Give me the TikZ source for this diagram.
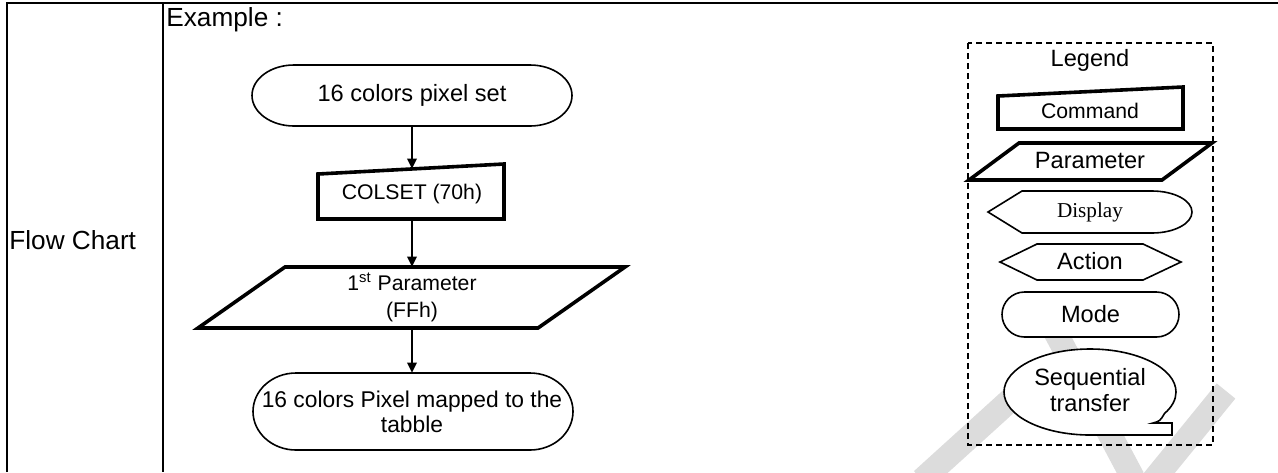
\documentclass[tikz,border=0pt]{standalone}
\usepackage{fontspec}
\setmainfont{Liberation Sans}
\newfontfamily\dispfont{Liberation Serif}
\usepackage{xcolor}
\usepackage{tikz}
\usetikzlibrary{arrows.meta,positioning,shapes.misc}
\definecolor{wmark}{HTML}{DCDCDC}
\newcommand{\fbig}{\fontsize{13.1}{15.5}\selectfont}
\newcommand{\fmid}{\fontsize{11.8}{13}\selectfont}
\newcommand{\fsml}{\fontsize{10.6}{13.5}\selectfont}

\begin{document}
\begin{tikzpicture}[x=0.5pt,y=-0.5pt,
  tablerule/.style={line width=1pt},
  outl/.style={line width=0.8pt},
  heavy/.style={line width=1.8pt,line join=miter},
  term/.style={draw,rounded rectangle,line width=0.8pt,fill=white,align=center,inner sep=0pt,font=\fmid},
  lbl/.style={inner sep=0pt,align=center},
  arr/.style={line width=0.8pt,-{Triangle[length=5pt,width=4.8pt]}}]
  \useasboundingbox (0,0) rectangle (1278,472);
  % watermark
  \begin{scope}
    \clip (0,0) rectangle (1278,472);
    \draw[wmark,line width=12pt] (922,480) -- (1040,373);
    \draw[wmark,line width=12pt] (1050,322) -- (1133,478);
    \draw[wmark,line width=12pt] (1152,482) -- (1226,391);
  \end{scope}
  % table frame
  \draw[tablerule] (7,472) -- (7,3) -- (1278,3);
  \draw[tablerule] (163,3) -- (163,472);
  \node[lbl,font=\fbig,anchor=west] (exmp) at (166,20) {Example :};
  \node[lbl,font=\fbig,anchor=west] (fchart) at (9,240) {Flow Chart};
  % flow chart
  \draw[outl,fill=white] (294,65) -- (530,65) arc[start angle=90,end angle=-90,x radius=21pt,y radius=15.25pt]
    -- (294,126) arc[start angle=270,end angle=90,x radius=21pt,y radius=15.25pt] -- cycle;
  \draw[heavy,fill=white] (318,174) -- (504,164) -- (504,219) -- (318,219) -- cycle;
  \draw[heavy,fill=white] (285,267) -- (625,267) -- (538,328) -- (198,328) -- cycle;
  \draw[outl,fill=white] (296,373) -- (530,373) arc[start angle=90,end angle=-90,x radius=21.5pt,y radius=19.25pt]
    -- (296,450) arc[start angle=270,end angle=90,x radius=21.5pt,y radius=19.25pt] -- cycle;
  \node[lbl,font=\fmid,minimum width=160pt,minimum height=30.5pt] (pxset) at (412,95) {16 colors pixel set};
  \node[lbl,font=\fsml,minimum width=93pt,minimum height=25pt] (colset) at (412,194) {COLSET (70h)};
  \node[lbl,font=\fsml,minimum width=170pt,minimum height=30.5pt] (par1) at (412,297.5) {1\textsuperscript{st} Parameter\\(FFh)};
  \node[lbl,font=\fontsize{11.4}{12.6}\selectfont,minimum width=160pt,minimum height=38.5pt] (mapped) at (412,411.5) {16 colors Pixel mapped to the\\tabble};
  \draw[arr] (pxset.south) -- (colset.north);
  \draw[arr] (colset.south) -- (par1.north);
  \draw[arr] (par1.south) -- (mapped.north);
  % legend
  \draw[outl,dash pattern=on 3pt off 2pt] (968,43) rectangle (1213,445);
  \node[lbl,font=\fmid] (legend) at (1090,60) {Legend};
  \draw[heavy,fill=white] (998,96) -- (1183,87) -- (1183,129) -- (998,129) -- cycle;
  \node[lbl,font=\fsml] (lcmd) at (1090,111) {Command};
  \draw[heavy,fill=white] (1019,143) -- (1212,143) -- (1162,180) -- (969,180) -- cycle;
  \node[lbl,font=\fmid] (lpar) at (1090,160) {Parameter};
  \draw[outl,fill=white] (988,212) -- (1022,191) -- (1152,191)
    arc[start angle=90,end angle=-90,x radius=20pt,y radius=10.5pt] -- (1022,233) -- cycle;
  \node[lbl,font=\dispfont\fsml] (ldisp) at (1090,212) {Display};
  \draw[outl,fill=white] (1000,262) -- (1037,244) -- (1143,244) -- (1181,262) -- (1143,280) -- (1037,280) -- cycle;
  \node[lbl,font=\fmid] (lact) at (1090,261) {Action};
  \node[term,minimum width=88.5pt,minimum height=22.5pt] (lmode) at (1090.5,314.5) {Mode};
  \draw[outl,fill=white] (1172,435) -- (1090,435)
    arc[start angle=-90,end angle=-390,x radius=43pt,y radius=21.5pt]
    .. controls (1160,421) .. (1153,423) -- (1172,423) -- cycle;
  \node[lbl,font=\fmid] (lseq) at (1090,390) {Sequential\\transfer};
\end{tikzpicture}
\end{document}
